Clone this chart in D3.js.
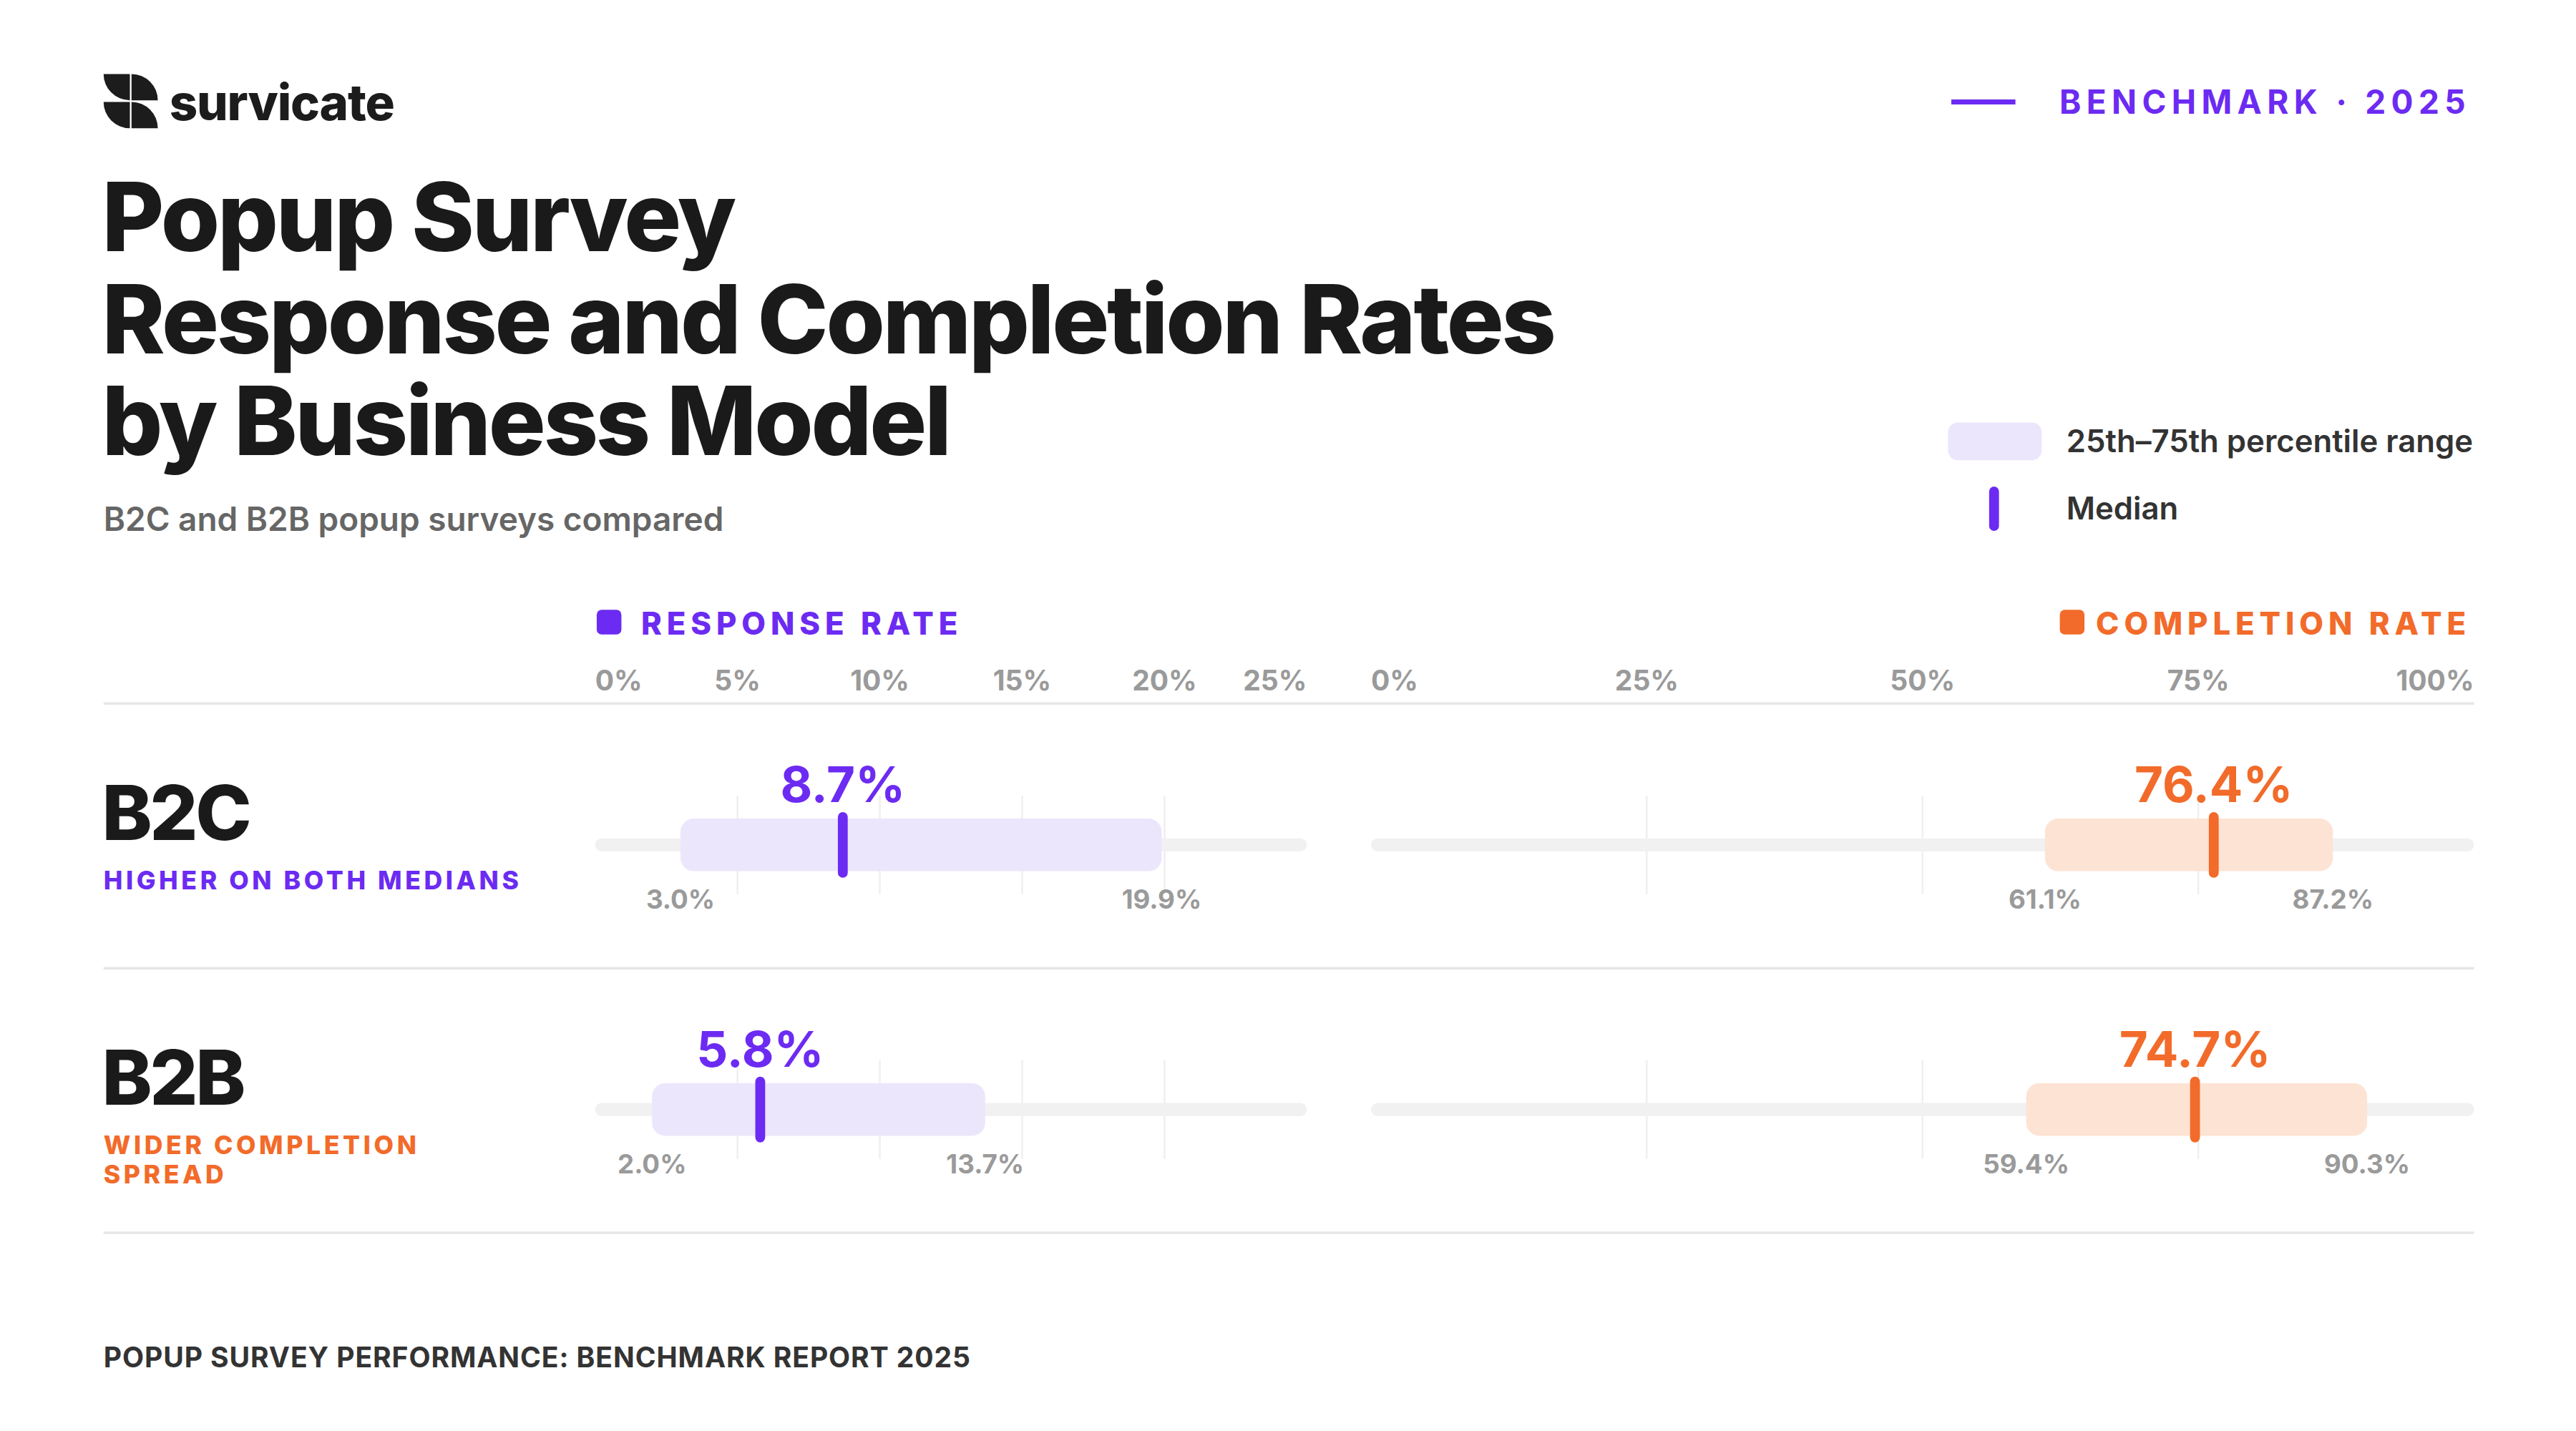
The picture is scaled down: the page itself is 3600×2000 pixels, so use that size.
<!DOCTYPE html>
<html>
<head>
<meta charset="utf-8">
<script src="https://cdn.jsdelivr.net/npm/d3@7"></script>
<style>
  html, body { margin: 0; padding: 0; background: #fff; }
  text { font-family: Inter, "Noto Sans", sans-serif; }
</style>
</head>
<body>
<div id="chart"></div>
<script>
// Data
const models = ["B2C", "B2B"];
const notes = [["HIGHER ON BOTH MEDIANS"], ["WIDER COMPLETION", "SPREAD"]];
const responseLow = [3.0, 2.0];
const responseMedian = [8.7, 5.8];
const responseHigh = [19.9, 13.7];
const completionLow = [61.1, 59.4];
const completionMedian = [76.4, 74.7];
const completionHigh = [87.2, 90.3];
const responseTicks = [0, 5, 10, 15, 20, 25];
const completionTicks = [0, 25, 50, 75, 100];

const PURPLE = "#6C2BF2", PURPLE_L = "#ECE6FC";
const ORANGE = "#F26B2A", ORANGE_L = "#FDE3D3";

const W = 1567, H = W / 1.8;
const svg = d3.select("#chart").append("svg")
  .attr("width", 3600).attr("height", 2000)
  .attr("viewBox", `0 0 ${W} ${H}`);

// Logo: four petals
const logo = svg.append("g").attr("transform", "translate(63,45)");
logo.selectAll("path").data([
  "M16,0 L16,16 A16,16 0 0 1 0,0 Z",
  "M17,16 L33,16 A16,16 0 0 0 17,0 Z",
  "M0,17 L16,17 L16,33 A16,16 0 0 1 0,17 Z",
  "M17,33 L17,17 A16,16 0 0 1 33,33 Z"
]).join("path").attr("d", d => d).attr("fill", "#1c1c1c");
svg.append("text").attr("x", 103).attr("y", 73).text("survicate")
  .attr("font-size", 30).attr("font-weight", 800).attr("fill", "#1c1c1c").attr("letter-spacing", -0.5);

// Top right
svg.append("line").attr("x1", 1187).attr("x2", 1226).attr("y1", 62).attr("y2", 62)
  .attr("stroke", PURPLE).attr("stroke-width", 3);
svg.append("text").attr("x", 1503).attr("y", 69).attr("text-anchor", "end")
  .text("BENCHMARK · 2025").attr("font-size", 20).attr("font-weight", 700)
  .attr("fill", PURPLE).attr("letter-spacing", 3.2);

// Title
["Popup Survey", "Response and Completion Rates", "by Business Model"].forEach((t, i) => {
  svg.append("text").attr("x", 62).attr("y", 153 + i * 62).text(t)
    .attr("font-size", 58).attr("font-weight", 800).attr("fill", "#1a1a1a").attr("letter-spacing", -1.4);
});
svg.append("text").attr("x", 63).attr("y", 323).text("B2C and B2B popup surveys compared")
  .attr("font-size", 20).attr("font-weight", 600).attr("fill", "#666");

// Legend
svg.append("rect").attr("x", 1185).attr("y", 257).attr("width", 57).attr("height", 23).attr("rx", 6)
  .attr("fill", PURPLE_L);
svg.append("text").attr("x", 1257).attr("y", 275).text("25th–75th percentile range")
  .attr("font-size", 19).attr("font-weight", 600).attr("fill", "#333");
svg.append("line").attr("x1", 1213).attr("x2", 1213).attr("y1", 299).attr("y2", 320)
  .attr("stroke", PURPLE).attr("stroke-width", 6).attr("stroke-linecap", "round");
svg.append("text").attr("x", 1257).attr("y", 316).text("Median")
  .attr("font-size", 19).attr("font-weight", 600).attr("fill", "#333");

// Scales
const xR = d3.scaleLinear().domain([0, 25]).range([362, 795]);
const xC = d3.scaleLinear().domain([0, 100]).range([834, 1505]);

// Section headers
svg.append("rect").attr("x", 363).attr("y", 371).attr("width", 15).attr("height", 15).attr("rx", 3).attr("fill", PURPLE);
svg.append("text").attr("x", 390).attr("y", 386).text("RESPONSE RATE")
  .attr("font-size", 19).attr("font-weight", 800).attr("fill", PURPLE).attr("letter-spacing", 3);
svg.append("text").attr("x", 1503).attr("y", 386).attr("text-anchor", "end").text("COMPLETION RATE")
  .attr("font-size", 19).attr("font-weight", 800).attr("fill", ORANGE).attr("letter-spacing", 3);
svg.append("rect").attr("x", 1253).attr("y", 371).attr("width", 15).attr("height", 15).attr("rx", 3).attr("fill", ORANGE);

// Tick labels
function tickLabels(scale, ticks) {
  svg.append("g").selectAll("text").data(ticks).join("text")
    .attr("x", d => scale(d)).attr("y", 420)
    .attr("text-anchor", (d, i) => i === 0 ? "start" : i === ticks.length - 1 ? "end" : "middle")
    .text(d => d + "%").attr("font-size", 17).attr("font-weight", 700).attr("fill", "#9a9a9a");
}
tickLabels(xR, responseTicks);
tickLabels(xC, completionTicks);

// Separators
[428, 589, 750].forEach(y => svg.append("line").attr("x1", 63).attr("x2", 1505)
  .attr("y1", y).attr("y2", y).attr("stroke", "#e6e6e6").attr("stroke-width", 1.5));

// Rows
const rowY = [514, 675];
const panels = [
  { x: xR, ticks: responseTicks, lo: responseLow, md: responseMedian, hi: responseHigh, c: PURPLE, cl: PURPLE_L },
  { x: xC, ticks: completionTicks, lo: completionLow, md: completionMedian, hi: completionHigh, c: ORANGE, cl: ORANGE_L }
];
models.forEach((m, i) => {
  const y = rowY[i];
  svg.append("text").attr("x", 62).attr("y", y - 3).text(m)
    .attr("font-size", 46).attr("font-weight", 800).attr("fill", "#1a1a1a").attr("letter-spacing", -1.5);
  notes[i].forEach((n, j) => svg.append("text").attr("x", 63).attr("y", y + 27 + j * 18).text(n)
    .attr("font-size", 15.5).attr("font-weight", 800).attr("fill", i === 0 ? PURPLE : ORANGE).attr("letter-spacing", 2));

  panels.forEach(p => {
    const g = svg.append("g");
    g.selectAll("line.grid").data(p.ticks.slice(1, -1)).join("line").attr("class", "grid")
      .attr("x1", d => p.x(d)).attr("x2", d => p.x(d)).attr("y1", y - 30).attr("y2", y + 30)
      .attr("stroke", "#eeeeee").attr("stroke-width", 1);
    g.append("rect").attr("x", p.x.range()[0]).attr("y", y - 4).attr("width", p.x.range()[1] - p.x.range()[0])
      .attr("height", 8).attr("rx", 4).attr("fill", "#f1f1f1");
    g.append("rect").attr("x", p.x(p.lo[i])).attr("y", y - 16).attr("width", p.x(p.hi[i]) - p.x(p.lo[i]))
      .attr("height", 32).attr("rx", 8).attr("fill", p.cl);
    g.append("line").attr("x1", p.x(p.md[i])).attr("x2", p.x(p.md[i])).attr("y1", y - 17).attr("y2", y + 17)
      .attr("stroke", p.c).attr("stroke-width", 6).attr("stroke-linecap", "round");
    g.append("text").attr("x", p.x(p.md[i])).attr("y", y - 26).attr("text-anchor", "middle")
      .text(p.md[i].toFixed(1) + "%").attr("font-size", 30).attr("font-weight", 700).attr("fill", p.c);
    [p.lo[i], p.hi[i]].forEach(v => g.append("text").attr("x", p.x(v)).attr("y", y + 39)
      .attr("text-anchor", "middle").text(v.toFixed(1) + "%")
      .attr("font-size", 16).attr("font-weight", 700).attr("fill", "#9a9a9a"));
  });
});

// Footer
svg.append("text").attr("x", 63).attr("y", 832).text("POPUP SURVEY PERFORMANCE: BENCHMARK REPORT 2025")
  .attr("font-size", 17).attr("font-weight", 700).attr("fill", "#333").attr("letter-spacing", 0.4);
</script>
</body>
</html>
